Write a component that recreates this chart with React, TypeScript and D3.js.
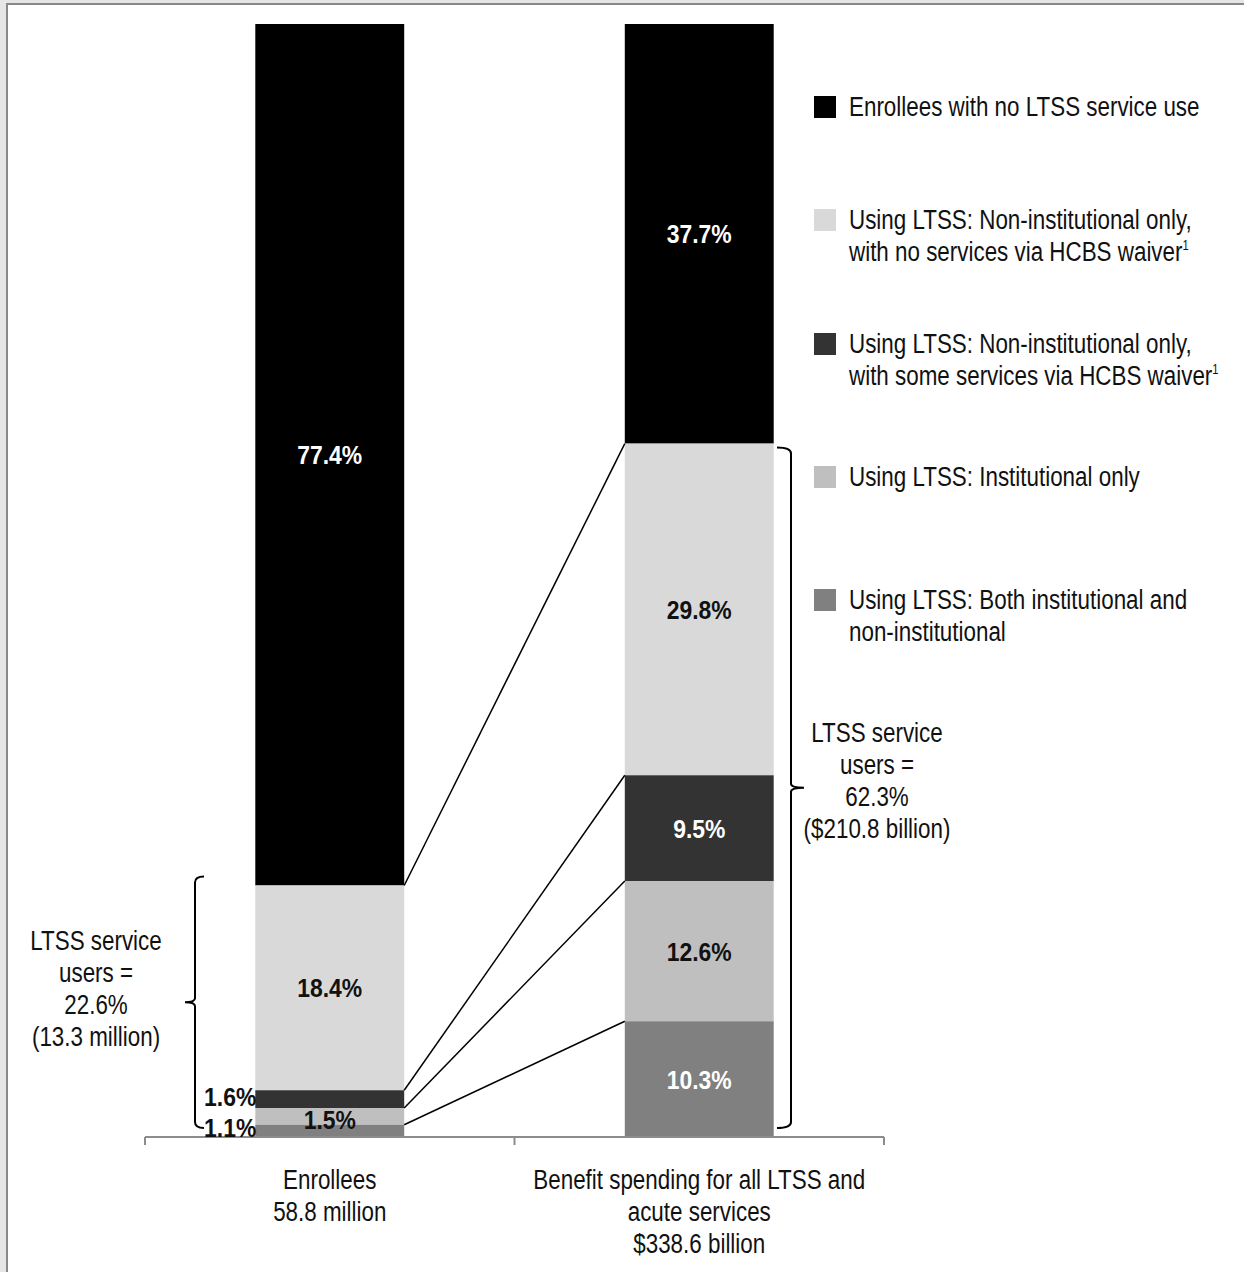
import React from "react";
import * as d3 from "d3";

// Stacked shares (percent) from top of each bar to bottom
const seriesNames = [
  "Enrollees with no LTSS service use",
  "Using LTSS: Non-institutional only, with no services via HCBS waiver",
  "Using LTSS: Non-institutional only, with some services via HCBS waiver",
  "Using LTSS: Institutional only",
  "Using LTSS: Both institutional and non-institutional",
];
const seriesColors = ["#000000", "#d9d9d9", "#333333", "#bfbfbf", "#808080"];
const enrolleeShares = [77.4, 18.4, 1.6, 1.5, 1.1];
const spendingShares = [37.7, 29.8, 9.5, 12.6, 10.3];

const categories = ["enrollees", "spending"];
const categoryLabels = [
  ["Enrollees", "58.8 million"],
  ["Benefit spending for all LTSS and", "acute services", "$338.6 billion"],
];

// Legend text, one array of lines per series; a trailing "¹" marks the footnote
const legendLines = [
  ["Enrollees with no LTSS service use"],
  ["Using LTSS: Non-institutional only,", "with no services via HCBS waiver¹"],
  ["Using LTSS: Non-institutional only,", "with some services via HCBS waiver¹"],
  ["Using LTSS: Institutional only"],
  ["Using LTSS: Both institutional and", "non-institutional"],
];

const enrolleeUsersLabel = ["LTSS service", "users =", "22.6%", "(13.3 million)"];
const spendingUsersLabel = ["LTSS service", "users =", "62.3%", "($210.8 billion)"];

const W = 1244;
const H = 1272;
const FONT = "'Liberation Sans', Arial, Helvetica, sans-serif";
// horizontal squeeze giving a condensed face
const SX = 0.8;
const SX_BOLD = 0.865;

function Label({ lines, x, y, lh, size, anchor = "middle", sx = SX, weight = "normal", fill = "#111", baseline }: any) {
  return (
    <g transform={`translate(${x},${y}) scale(${sx},1)`}>
      <text x={0} y={0} fontSize={size} textAnchor={anchor} fill={fill} fontWeight={weight} dominantBaseline={baseline}>
        {lines.map((l: string, i: number) => {
          const sup = l.endsWith("¹");
          const base = sup ? l.slice(0, -1) : l;
          return (
            <tspan key={i} x={0} dy={i === 0 ? 0 : lh}>
              {base}
              {sup && (
                <tspan fontSize={size * 0.5} dy={-size * 0.38}>
                  1
                </tspan>
              )}
            </tspan>
          );
        })}
      </text>
    </g>
  );
}

function stack(values: number[]) {
  // [top, bottom] cumulative percent per segment, measured from the baseline
  const out: { top: number; bottom: number; value: number }[] = [];
  let acc = 100;
  for (const v of values) {
    out.push({ top: acc, bottom: acc - v, value: v });
    acc -= v;
  }
  out[out.length - 1].bottom = 0;
  return out;
}

export default function App() {
  const y = d3.scaleLinear().domain([0, 100]).range([1137, 24]);
  const x = d3.scaleBand<string>().domain(categories).range([145, 884]).padding(0);
  const barW = x.bandwidth() * 0.403;
  const barX = (c: string) => (x(c) as number) + x.bandwidth() / 2 - barW / 2;

  const s1 = stack(enrolleeShares);
  const s2 = stack(spendingShares);
  const b1 = barX(categories[0]);
  const b2 = barX(categories[1]);
  const c1 = b1 + barW / 2;
  const c2 = b2 + barW / 2;

  const labelSize = 26.5;
  const textSize = 28;
  const fmt = (v: number) => `${v.toFixed(1)}%`;
  const textColor = (i: number) => (i === 1 || i === 3 ? "#111" : "#fff");

  // curly brackets around the LTSS user segments
  const lTop = y(22.6) - 9;
  const lBot = y(0) - 9;
  const lMid = (lTop + lBot) / 2;
  const lx = 195;
  const leftBracket = `M${lx + 9},${lTop} Q${lx},${lTop} ${lx},${lTop + 6} L${lx},${lMid - 4} Q${lx},${lMid} ${lx - 10},${lMid} Q${lx},${lMid} ${lx},${lMid + 4} L${lx},${lBot - 6} Q${lx},${lBot} ${lx + 9},${lBot}`;

  const rTop = y(62.3) + 4;
  const rBot = y(0) - 9;
  const rMid = (rTop + rBot) / 2;
  const rx = 791;
  const rightBracket = `M${rx - 14},${rTop} Q${rx},${rTop} ${rx},${rTop + 6} L${rx},${rMid - 4} Q${rx},${rMid} ${rx + 13},${rMid} Q${rx},${rMid} ${rx},${rMid + 4} L${rx},${rBot - 6} Q${rx},${rBot} ${rx - 14},${rBot}`;

  const legendY = [107, 220, 344, 477, 600];

  const boldLabel = (key: string, text: string, lx: number, ly: number, anchor: string, fill: string) => (
    <Label key={key} lines={[text]} x={lx} y={ly} size={labelSize} anchor={anchor} sx={SX_BOLD} weight="bold" fill={fill} baseline="central" />
  );

  return (
    <svg
      width={W}
      height={H}
      style={{ position: "absolute", left: 0, top: 0, display: "block" }}
      fontFamily={FONT}
    >
      <rect x={0} y={0} width={W} height={H} fill="#e6e6e6" />
      <rect x={7} y={4} width={W - 7} height={H - 4} fill="#fff" />
      <path d={`M7,${H} L7,4 L${W},4`} fill="none" stroke="#888" strokeWidth={2} />

      {/* bars */}
      {s1.map((d, i) => (
        <rect key={"a" + i} x={b1} y={y(d.top)} width={barW} height={y(d.bottom) - y(d.top)} fill={seriesColors[i]} />
      ))}
      {s2.map((d, i) => (
        <rect key={"b" + i} x={b2} y={y(d.top)} width={barW} height={y(d.bottom) - y(d.top)} fill={seriesColors[i]} />
      ))}

      {/* connectors between LTSS segment tops */}
      {s1.slice(1).map((d, i) => (
        <line key={"c" + i} x1={b1 + barW} y1={y(d.top)} x2={b2} y2={y(s2[i + 1].top)} stroke="#000" strokeWidth={1.5} />
      ))}

      {/* axis */}
      <g stroke="#8c8c8c" strokeWidth={2}>
        <line x1={145} x2={884} y1={y(0)} y2={y(0)} />
        {[145, ...categories.map((c) => (x(c) as number) + x.bandwidth())].map((t, i) => (
          <line key={i} x1={t} x2={t} y1={y(0)} y2={y(0) + 8} />
        ))}
      </g>

      {/* segment labels; the thin enrollee slices get labels beside the bar */}
      {s1.map((d, i) => {
        const mid = (y(d.top) + y(d.bottom)) / 2;
        if (i < 2) return boldLabel("e" + i, fmt(d.value), c1, mid, "middle", textColor(i));
        if (i === 3) return boldLabel("e" + i, fmt(d.value), c1, mid + 2.5, "middle", "#111");
        return boldLabel("e" + i, fmt(d.value), b1 + 1, mid + (i === 4 ? -4 : -3), "end", "#111");
      })}
      {s2.map((d, i) =>
        boldLabel("s" + i, fmt(d.value), c2, (y(d.top) + y(d.bottom)) / 2, "middle", textColor(i))
      )}

      {/* brackets */}
      <path d={leftBracket} fill="none" stroke="#000" strokeWidth={2} />
      <path d={rightBracket} fill="none" stroke="#000" strokeWidth={2} />
      <Label lines={enrolleeUsersLabel} x={96} y={950} lh={32} size={textSize} />
      <Label lines={spendingUsersLabel} x={877} y={742} lh={32} size={textSize} />

      {/* legend */}
      {legendLines.map((lines, i) => (
        <g key={"l" + i}>
          <rect x={814} y={legendY[i] - 11} width={22} height={22} fill={seriesColors[i]} />
          <Label lines={lines} x={849} y={legendY[i] + 9} lh={32} size={textSize} anchor="start" />
        </g>
      ))}

      {/* category labels */}
      {categories.map((c, i) => (
        <Label key={c} lines={categoryLabels[i]} x={(x(c) as number) + x.bandwidth() / 2} y={1189} lh={32} size={textSize} />
      ))}
    </svg>
  );
}
